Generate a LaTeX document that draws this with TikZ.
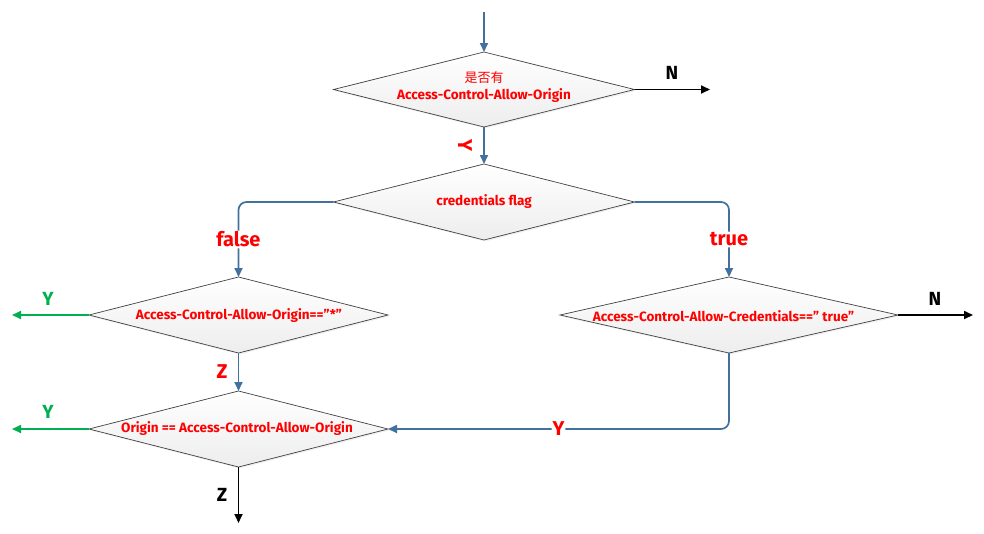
\documentclass[tikz,border=0pt]{standalone}
\usepackage{fontspec}
\setmainfont{Fira Sans}
\newfontfamily\cjk{Noto Sans CJK SC}
\usetikzlibrary{shapes.geometric,arrows.meta,shadows}
\definecolor{flowblue}{HTML}{41719C}
\definecolor{flowgreen}{HTML}{00B050}
\definecolor{flowred}{HTML}{FF0000}
\tikzset{
  dia/.style={diamond, draw=black!75, line width=0.7pt, inner sep=0pt, outer sep=0pt,
    top color=white, bottom color=black!7,
    drop shadow={opacity=0.12, shadow xshift=1.2pt, shadow yshift=-1.5pt}},
  txt/.style={text=flowred, font=\bfseries\fontsize{13.5}{15}\selectfont, inner sep=0pt},
  blueline/.style={draw=flowblue, line width=1.7pt, -{Triangle[length=9pt,width=8pt]}, rounded corners=8pt},
  blackline/.style={draw=black, line width=1.7pt, -{Triangle[length=9pt,width=8pt]}},
  greenline/.style={draw=flowgreen, line width=1.7pt, -{Triangle[length=9pt,width=8pt]}},
  biglbl/.style={text=flowred, font=\bfseries\fontsize{20}{22}\selectfont, inner sep=1pt},
  blklbl/.style={text=black, font=\bfseries\fontsize{19}{21}\selectfont, inner sep=0pt},
  grnlbl/.style={text=flowgreen, font=\bfseries\fontsize{19}{21}\selectfont, inner sep=0pt},
}
\begin{document}
\begin{tikzpicture}[x=1pt,y=-1pt]
\useasboundingbox (0,0) rectangle (984,533);
% diamonds
\node[dia, minimum width=301pt, minimum height=75pt] (d1) at (484,89.5) {};
\node[dia, minimum width=301pt, minimum height=76pt] (d2) at (484,202) {};
\node[dia, minimum width=299pt, minimum height=76pt] (d3) at (238.5,315) {};
\node[dia, minimum width=338pt, minimum height=76pt] (d4) at (729,315) {};
\node[dia, minimum width=299pt, minimum height=76pt] (d5) at (238.5,429) {};
% texts
\node[text=flowred, font=\cjk\fontsize{13}{14}\selectfont, inner sep=0pt] (t1a) at (484,78) {是否有};
\node[txt] (t1b) at (484,96) {Access-Control-Allow-Origin};
\node[txt] (t2) at (484,202) {credentials flag};
\node[txt] (t3) at (239,316) {Access-Control-Allow-Origin==”*”};
\node[txt] (t4) at (723.5,316) {Access-Control-Allow-Credentials==” true”};
\node[txt] (t5) at (237,429) {Origin == Access-Control-Allow-Origin};
% free ends
\coordinate (s0) at (484,12);
\coordinate (n1) at (710,89.5);
\coordinate (y3) at (12,315);
\coordinate (n4) at (973,315);
\coordinate (y5) at (12,429);
\coordinate (z5) at (238.5,523);
% connectors
\draw[blueline] (s0) -- (d1.north);
\draw[blackline] (d1.east) -- (n1);
\draw[blueline] (d1.south) -- (d2.north);
\draw[blueline] (d2.west) -| node[pos=0.75, fill=white, biglbl] (lf) {false} (d3.north);
\draw[blueline] (d2.east) -| node[pos=0.75, fill=white, biglbl] (lt) {true} (d4.north);
\draw[greenline] (d3.west) -- (y3);
\draw[blueline] (d3.south) -- (d5.north);
\draw[blackline] (d4.east) -- (n4);
\draw[blueline] (d4.south) |- node[pos=0.75, fill=white, biglbl] (ly) {Y} (d5.east);
\draw[greenline] (d5.west) -- (y5);
\draw[blackline] (d5.south) -- (z5);
% labels
\node[blklbl] (ln1) at (672,73) {N};
\node[biglbl, rotate=-90] (ly1) at (465,145) {Y};
\node[grnlbl] (ly3) at (48,299) {Y};
\node[biglbl] (lz3) at (222,372) {Z};
\node[blklbl] (ln4) at (935,299) {N};
\node[grnlbl] (ly5) at (48,412) {Y};
\node[blklbl] (lz5) at (222,495) {Z};
\end{tikzpicture}
\end{document}
